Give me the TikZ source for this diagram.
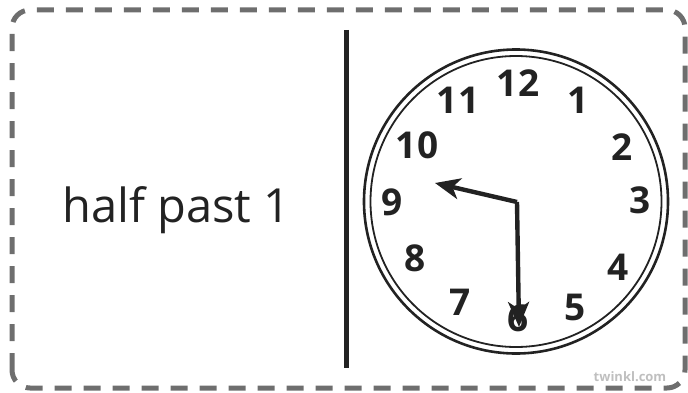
\documentclass[tikz,border=0pt]{standalone}
\usepackage{fontspec}
\setmainfont{Open Sans}
\usetikzlibrary{arrows.meta}
\definecolor{bordergray}{HTML}{6E6E6E}
\definecolor{ink}{HTML}{222222}
\tikzset{
  numlabel/.style={font=\fontsize{37}{37}\selectfont\bfseries, text=ink, inner sep=0pt},
  hand/.style={line width=4.4pt, draw=ink, -{Stealth[length=25pt, width=21pt, inset=7pt]}},
}

\begin{document}
\begin{tikzpicture}[x=1pt, y=1pt]
        \useasboundingbox (0,0) rectangle (688,392);
        \draw[bordergray, line width=5pt, dash pattern=on 17pt off 12pt, rounded corners=18pt] (12,4) rectangle (685,382);
        \draw[ink, line width=5pt] (346.5,362) -- (346.5,24);

        \node[font=\fontsize{47}{47}\selectfont, text=ink, anchor=base] (caption) at (176.5,170) {half past 1};

        \draw[ink, line width=2.6pt] (516,190.5) circle (152);
        \draw[ink, line width=1.8pt] (516,190.5) circle (145.5);

        \node[numlabel] (n12) at (518,309) {12};
        \node[numlabel] (n1) at (578,292) {1};
        \node[numlabel] (n2) at (622,245) {2};
        \node[numlabel] (n3) at (640,192) {3};
        \node[numlabel] (n4) at (618,125) {4};
        \node[numlabel] (n5) at (575,85) {5};
        \node[numlabel] (n6) at (518,74) {6};
        \node[numlabel] (n7) at (460,90) {7};
        \node[numlabel] (n8) at (415,134) {8};
        \node[numlabel] (n9) at (392,190) {9};
        \node[numlabel] (n10) at (417,247) {10};
        \node[numlabel] (n11) at (458,292) {11};

        \coordinate (hub) at (517,190);
        \coordinate (hourtip) at (435,209);
        \coordinate (minutetip) at (519,65);
        \draw[hand, line join=round] (hub) -- (hourtip);
        \draw[hand] (hub) -- (minutetip);

        \node[font=\fontsize{13}{13}\selectfont\bfseries, text=black!25] (mark) at (630,15) {twinkl.com};
      \end{tikzpicture}
\end{document}
